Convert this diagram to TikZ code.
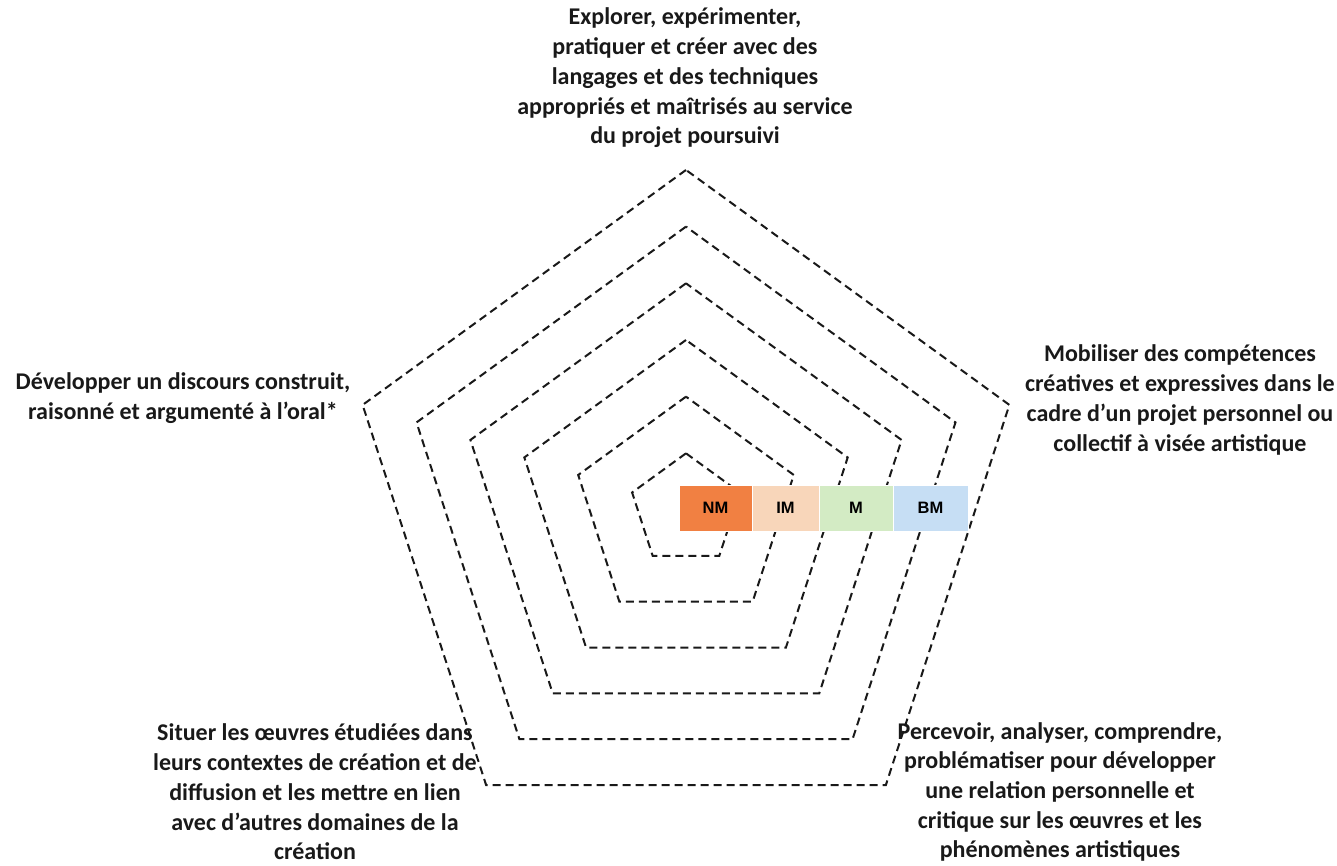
\documentclass[tikz,border=0pt]{standalone}
\usepackage{fontspec}
\setmainfont{Carlito}
\newfontfamily\cellfont{Liberation Sans}
\definecolor{nmcol}{RGB}{241,128,66}
\definecolor{imcol}{RGB}{248,214,186}
\definecolor{mcol}{RGB}{211,235,196}
\definecolor{bmcol}{RGB}{198,222,244}
\begin{document}
\begin{tikzpicture}[x=1pt,y=1pt,line join=miter,
  ring/.style={black!90,line width=2pt,dash pattern=on 8pt off 5pt},
  lab/.style={align=center,inner sep=0pt,text=black!90,font=\bfseries\fontsize{24}{29.7}\selectfont},
  cell/.style={draw=white,line width=0.6pt,minimum height=46pt,inner sep=0pt,font=\cellfont\bfseries\fontsize{16.5}{18}\selectfont}]
\def \r{56.67};
\useasboundingbox (-686,-356) rectangle (651,510);
\foreach \k in {1,...,6}{\draw[ring] (90:{\k*\r}) -- (162:{\k*\r}) -- (234:{\k*\r}) -- (306:{\k*\r}) -- (18:{\k*\r}) -- cycle;}
\foreach \n/\a/\w/\l in {nm/-7/73/NM,im/66/67/IM,m/133/74/M,bm/207/75/BM}{\node[cell,fill=\n col,minimum width=\w pt] (\n) at ({\a+\w/2},2) {\l};}
\node[lab] (explorer) at (-1,432) {Explorer, expérimenter,\\pratiquer et créer avec des\\langages et des techniques\\appropriés et maîtrisés au service\\du projet poursuivi};
\node[lab] (mobiliser) at (494,110) {Mobiliser des compétences\\créatives et expressives dans le\\cadre d’un projet personnel ou\\collectif à visée artistique};
\node[lab] (percevoir) at (374,-282) {Percevoir, analyser, comprendre,\\problématiser pour développer\\une relation personnelle et\\critique sur les œuvres et les\\phénomènes artistiques};
\node[lab] (situer) at (-371,-282) {Situer les œuvres étudiées dans\\leurs contextes de création et de\\diffusion et les mettre en lien\\avec d’autres domaines de la\\création};
\node[lab] (discours) at (-503,112) {Développer un discours construit,\\raisonné et argumenté à l’oral*};
\end{tikzpicture}
\end{document}
